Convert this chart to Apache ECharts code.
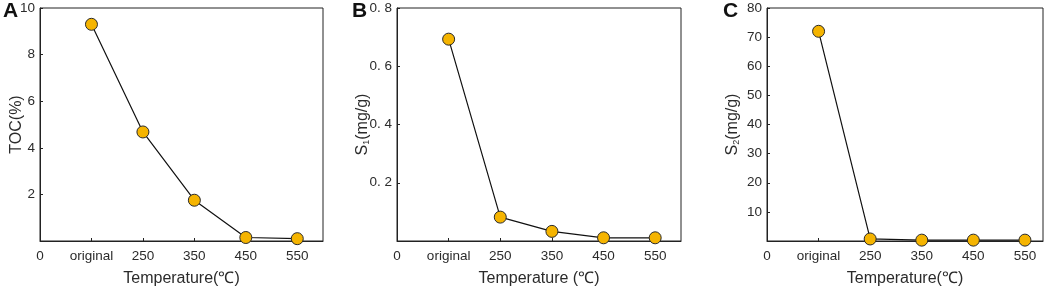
<!DOCTYPE html>
<html>
<head>
<meta charset="utf-8">
<script src="https://cdn.jsdelivr.net/npm/echarts@6/dist/echarts.min.js"></script>
<style>
  html, body { margin: 0; padding: 0; background: #fff; }
  #chart { width: 1052px; height: 289px; }
</style>
</head>
<body>
<div id="chart"></div>
<script>
// tick labels on the x axis (position 0 is just "0", then the samples)
var xLabels = ['0', 'original', '250', '350', '450', '550'];
// values
var tocData = [9.3, 4.68, 1.75, 0.15, 0.1];
var s1Data = [0.693, 0.082, 0.033, 0.011, 0.011];
var s2Data = [72, 0.7, 0.3, 0.3, 0.3];

var FONT = 'Liberation Sans, Arial, sans-serif';
var TXT = '#2b2b2b';

function toPoints(arr) {
    return arr.map(function (v, i) { return [i + 1, v]; });
}

function xAxisFor(idx, name, max) {
    return {
        type: 'value', gridIndex: idx, min: 0, max: max, interval: 1,
        name: name, nameLocation: 'middle', nameGap: 30, nameMoveOverlap: false,
        nameTextStyle: { fontFamily: FONT, fontSize: 16, color: TXT },
        axisLine: { show: true, onZero: false, lineStyle: { color: '#222', width: 1 } },
        axisTick: { show: true, inside: true, length: 3, lineStyle: { color: '#222' } },
        axisLabel: {
            fontFamily: FONT, fontSize: 13.5, color: TXT, margin: 8, showMaxLabel: false,
            formatter: function (v) { return xLabels[v] !== undefined ? xLabels[v] : ''; }
        },
        splitLine: { show: false }
    };
}

function yAxisFor(idx, name, max, interval, gap, fmt) {
    return {
        type: 'value', gridIndex: idx, min: 0, max: max, interval: interval,
        name: name, nameLocation: 'middle', nameGap: gap, nameMoveOverlap: false,
        nameTextStyle: {
            fontFamily: FONT, fontSize: 16, color: TXT,
            rich: { sub: { fontFamily: FONT, fontSize: 9, color: TXT, verticalAlign: 'bottom', padding: [8, 0, 0, 0] } }
        },
        axisLine: { show: true, lineStyle: { color: '#222', width: 1 } },
        axisTick: { show: true, inside: true, length: 3, lineStyle: { color: '#222' } },
        axisLabel: {
            fontFamily: FONT, fontSize: 13.5, color: TXT, margin: 5, showMinLabel: false,
            formatter: fmt
        },
        splitLine: { show: false }
    };
}

function seriesFor(idx, data) {
    return {
        type: 'line', xAxisIndex: idx, yAxisIndex: idx,
        data: toPoints(data),
        symbol: 'circle', symbolSize: 12,
        lineStyle: { color: '#111', width: 1.2 },
        itemStyle: { color: '#F5B400', borderColor: '#2a2a2a', borderWidth: 1 },
        z: 3
    };
}

function gridAt(left, width) {
    return {
        left: left, top: 8, width: width, height: 233,
        outerBoundsMode: 'none', containLabel: false,
        show: true, borderColor: '#222', borderWidth: 1
    };
}

var chart = echarts.init(document.getElementById('chart'), null, { renderer: 'canvas' });
var option = {
    animation: false,
    backgroundColor: '#fff',
    grid: [gridAt(40, 283), gridAt(397, 284), gridAt(767, 276)],
    xAxis: [
        xAxisFor(0, 'Temperature(℃)', 5.5),
        xAxisFor(1, 'Temperature (℃)', 5.5),
        xAxisFor(2, 'Temperature(℃)', 5.35)
    ],
    yAxis: [
        yAxisFor(0, 'TOC(%)', 10, 2, 15, function (v) { return v; }),
        yAxisFor(1, 'S{sub|1}(mg/g)', 0.8, 0.2, 26, function (v) { return v.toFixed(1).replace('.', '. '); }),
        yAxisFor(2, 'S{sub|2}(mg/g)', 80, 10, 26, function (v) { return v; })
    ],
    series: [
        seriesFor(0, tocData),
        seriesFor(1, s1Data),
        seriesFor(2, s2Data)
    ],
    graphic: [
        { type: 'text', left: 3, top: 1, style: { text: 'A', font: 'bold 21px ' + FONT, fill: '#111' } },
        { type: 'text', left: 352, top: 1, style: { text: 'B', font: 'bold 21px ' + FONT, fill: '#111' } },
        { type: 'text', left: 723, top: 1, style: { text: 'C', font: 'bold 21px ' + FONT, fill: '#111' } }
    ]
};
chart.setOption(option);
</script>
</body>
</html>
